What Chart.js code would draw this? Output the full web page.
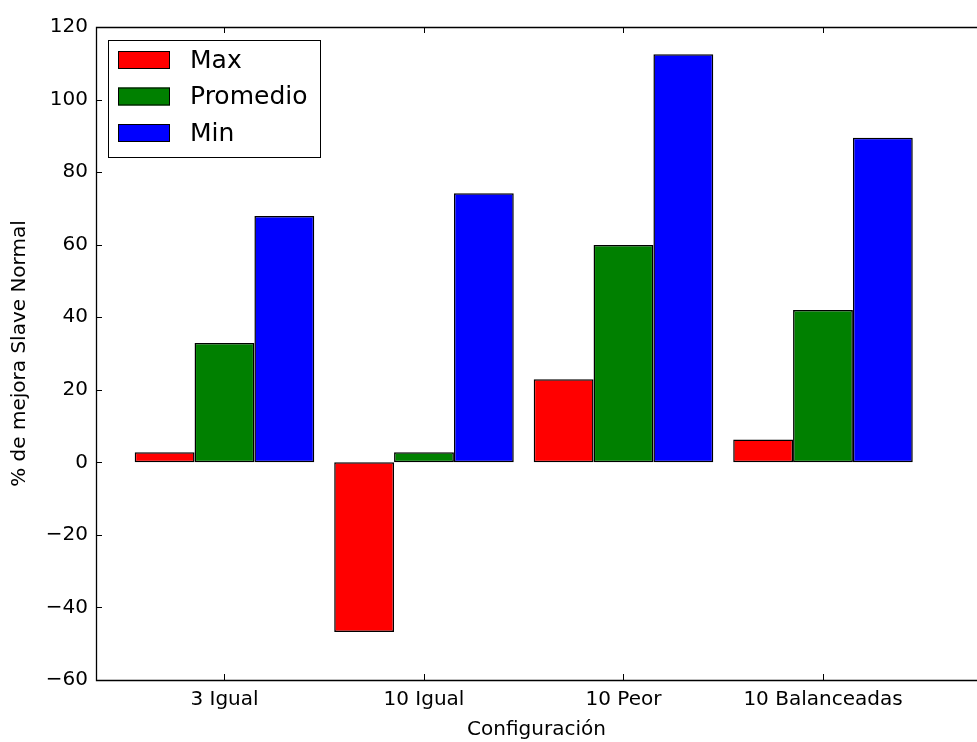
<!DOCTYPE html>
<html>
<head>
<meta charset="utf-8">
<script src="https://cdn.jsdelivr.net/npm/chart.js@4.4.1/dist/chart.umd.min.js"></script>
<style>
  html, body { margin: 0; padding: 0; background: #fff; overflow: hidden; }
  #wrap { width: 977px; height: 742px; }
</style>
</head>
<body>
<div id="wrap"><canvas id="chart" width="977" height="742"></canvas></div>
<script>
// Data
const categories = ['3 Igual', '10 Igual', '10 Peor', '10 Balanceadas'];
const seriesNames = ['Max', 'Promedio', 'Min'];
const maxValues = [2.8, -46.8, 22.9, 6.3];
const avgValues = [32.9, 2.8, 59.9, 42.0];
const minValues = [67.9, 74.2, 112.5, 89.5];
const yTicks = [-60, -40, -20, 0, 20, 40, 60, 80, 100, 120];

const seriesColors = ['#ff0000', '#008000', '#0000ff'];
const seriesValues = [maxValues, avgValues, minValues];

Chart.defaults.font.family = "'DejaVu Sans', sans-serif";
Chart.defaults.color = '#000';

// Frame + inward tick marks, like the classic matplotlib look
// (the right edge of the plot is cut off in the original, so no right border)
const frameTicksPlugin = {
    id: 'frameTicks',
    afterDraw: (chart) => {
        const ctx = chart.ctx;
        const area = chart.chartArea;
        const x = chart.scales.x;
        const y = chart.scales.y;
        const len = 6;

        ctx.save();
        ctx.strokeStyle = '#000';
        ctx.lineWidth = 1.3;
        ctx.beginPath();
        ctx.moveTo(chart.width, area.top + 0.5);
        ctx.lineTo(area.left + 0.5, area.top + 0.5);
        ctx.lineTo(area.left + 0.5, area.bottom + 0.5);
        ctx.lineTo(chart.width, area.bottom + 0.5);
        ctx.stroke();

        ctx.lineWidth = 1;
        ctx.beginPath();
        y.ticks.forEach(t => {
            const py = Math.round(y.getPixelForValue(t.value)) + 0.5;
            ctx.moveTo(area.left, py);
            ctx.lineTo(area.left + len, py);
        });
        x.ticks.forEach(t => {
            const px = Math.round(x.getPixelForValue(t.value)) + 0.5;
            ctx.moveTo(px, area.bottom);
            ctx.lineTo(px, area.bottom - len);
            ctx.moveTo(px, area.top);
            ctx.lineTo(px, area.top + len);
        });
        ctx.stroke();
        ctx.restore();
    }
};

// Legend box in the upper left corner of the plot
const boxLegendPlugin = {
    id: 'boxLegend',
    afterDraw: (chart) => {
        const ctx = chart.ctx;
        const area = chart.chartArea;
        const left = area.left + 12;
        const top = area.top + 13;
        const rowH = 36.5;

        ctx.save();
        ctx.fillStyle = '#fff';
        ctx.fillRect(left, top, 212, 117);
        ctx.strokeStyle = '#000';
        ctx.lineWidth = 1;
        ctx.strokeRect(left + 0.5, top + 0.5, 212, 117);

        ctx.font = "25px 'DejaVu Sans', sans-serif";
        ctx.textBaseline = 'middle';
        chart.data.datasets.forEach((ds, i) => {
            const cy = top + 20 + i * rowH;
            ctx.fillStyle = ds.backgroundColor;
            ctx.fillRect(left + 10, cy - 9, 52, 18);
            ctx.strokeStyle = '#000';
            ctx.strokeRect(left + 10.5, cy - 8.5, 51, 17);
            ctx.fillStyle = '#000';
            ctx.fillText(ds.label, left + 82, cy + 1);
        });
        ctx.restore();
    }
};

const datasets = seriesNames.map((name, s) => ({
    label: name,
    data: seriesValues[s].map((v, i) => ({ x: i, y: v })),
    backgroundColor: seriesColors[s],
    borderColor: '#000',
    borderWidth: 1.5,
    borderSkipped: false,
    barPercentage: 1.0,
    categoryPercentage: 0.9
}));

new Chart(document.getElementById('chart'), {
    type: 'bar',
    data: { datasets: datasets },
    options: {
        responsive: false,
        animation: false,
        devicePixelRatio: 1,
        layout: { padding: { top: 27, left: 0, right: 0, bottom: 0 } },
        plugins: {
            legend: { display: false },
            tooltip: { enabled: false }
        },
        scales: {
            x: {
                type: 'linear',
                offset: false,
                min: -0.644,
                max: 3.772,
                grid: { display: false, drawTicks: false, offset: false },
                border: { display: false },
                afterBuildTicks: (scale) => {
                    scale.ticks = categories.map((c, i) => ({ value: i }));
                },
                afterFit: (scale) => { scale.height = 62; },
                ticks: {
                    padding: 8,
                    maxRotation: 0,
                    autoSkip: false,
                    font: { size: 20 },
                    callback: (value) => categories[value]
                },
                title: {
                    display: true,
                    text: 'Configuración',
                    font: { size: 20 },
                    padding: { top: 0, bottom: 0 }
                }
            },
            y: {
                min: -60,
                max: 120,
                grid: { display: false, drawTicks: false },
                border: { display: false },
                afterBuildTicks: (scale) => {
                    scale.ticks = yTicks.map(v => ({ value: v }));
                },
                afterFit: (scale) => { scale.width = 96; },
                ticks: {
                    padding: 8,
                    font: { size: 20 },
                    callback: (value) => value < 0 ? '\u2212' + Math.abs(value) : String(value)
                },
                title: {
                    display: true,
                    text: '% de mejora Slave Normal',
                    font: { size: 20 },
                    padding: { top: 8, bottom: 0 }
                }
            }
        }
    },
    plugins: [frameTicksPlugin, boxLegendPlugin]
});
</script>
</body>
</html>
